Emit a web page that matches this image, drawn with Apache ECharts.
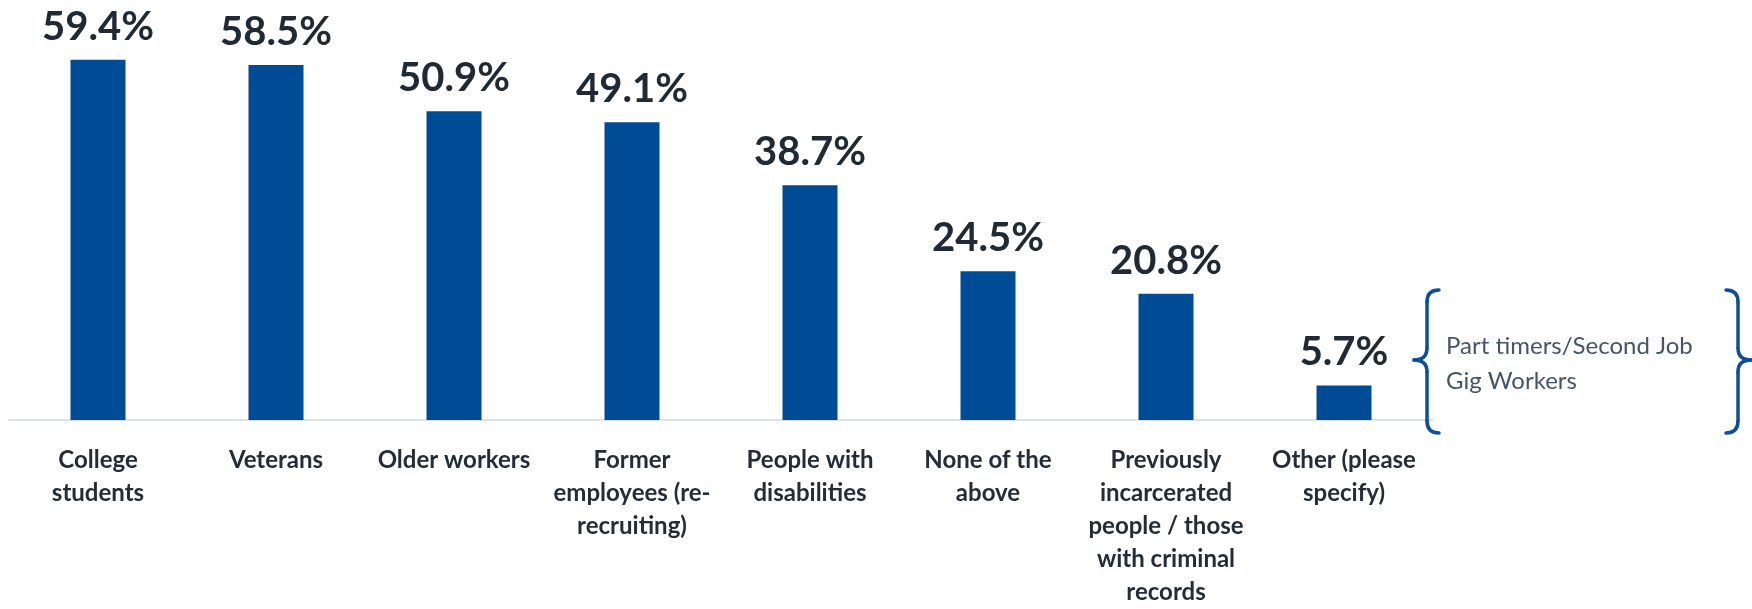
<!DOCTYPE html>
<html>
<head>
<meta charset="utf-8">
<script src="https://cdn.jsdelivr.net/npm/echarts@6/dist/echarts.min.js"></script>
<style>
  html, body { margin: 0; padding: 0; background: #ffffff; }
  #chart { width: 1752px; height: 609px; }
</style>
</head>
<body>
<div id="chart"></div>
<script>
// Groups targeted when recruiting (share of respondents)
const categories = [
  'College students',
  'Veterans',
  'Older workers',
  'Former employees (re-recruiting)',
  'People with disabilities',
  'None of the above',
  'Previously incarcerated people / those with criminal records',
  'Other (please specify)'
];
const tickLabels = [
  'College\nstudents',
  'Veterans',
  'Older workers',
  'Former\nemployees (re-\nrecruiting)',
  'People with\ndisabilities',
  'None of the\nabove',
  'Previously\nincarcerated\npeople / those\nwith criminal\nrecords',
  'Other (please\nspecify)'
];
const shares = [59.4, 58.5, 50.9, 49.1, 38.7, 24.5, 20.8, 5.7];
const noteLines = ['Part timers/Second Job', 'Gig Workers'];

const chart = echarts.init(document.getElementById('chart'), null, { renderer: 'canvas' });

const braceColor = '#0d4f98';
const braceStyle = { fill: 'none', stroke: braceColor, lineWidth: 3.5, lineCap: 'round' };

// Curly brace built from straight runs and quadratic corners.
// xs: x of the vertical run, xe: x of the end hooks, xt: x of the middle tip.
function brace(xs, xe, xt, yTop, yMid, yBot) {
  const r = 12;
  const curve = (x1, y1, x2, y2, cx, cy) => ({
    type: 'bezierCurve', z: 10, silent: true,
    shape: { x1, y1, x2, y2, cpx1: cx, cpy1: cy },
    style: braceStyle
  });
  const line = (x1, y1, x2, y2) => ({
    type: 'line', z: 10, silent: true,
    shape: { x1, y1, x2, y2 },
    style: braceStyle
  });
  return [
    curve(xe, yTop, xs, yTop + r, xs, yTop),
    line(xs, yTop + r, xs, yMid - r),
    curve(xs, yMid - r, xt, yMid, xs, yMid),
    curve(xt, yMid, xs, yMid + r, xs, yMid),
    line(xs, yMid + r, xs, yBot - r),
    curve(xs, yBot - r, xe, yBot, xs, yBot)
  ];
}

chart.setOption({
  animation: false,
  backgroundColor: '#ffffff',
  grid: { left: 9, width: 1424, top: 56, height: 367, containLabel: false },
  xAxis: {
    type: 'category',
    data: categories,
    axisTick: { show: false },
    axisLine: { show: true, lineStyle: { color: '#dde2ea', width: 2 } },
    axisLabel: {
      interval: 0,
      margin: 24,
      fontFamily: 'Lato',
      fontWeight: 'bold',
      fontSize: 24,
      lineHeight: 33,
      color: '#242d37',
      align: 'center',
      formatter: (v, i) => tickLabels[i]
    }
  },
  yAxis: {
    type: 'value',
    min: 0,
    max: 60,
    show: false,
    splitLine: { show: false }
  },
  series: [{
    type: 'bar',
    data: shares,
    barWidth: 55,
    itemStyle: { color: '#004b96' },
    label: {
      show: true,
      position: 'top',
      distance: 13,
      fontFamily: 'Lato',
      fontWeight: 'bold',
      fontSize: 40,
      color: '#202a34',
      formatter: p => p.value.toFixed(1) + '%'
    }
  }],
  graphic: [
    ...brace(1427, 1439, 1414, 290, 360, 433),
    ...brace(1738, 1726, 1751, 290, 360, 433),
    {
      type: 'text',
      left: 1446,
      top: 329,
      z: 10,
      style: {
        text: noteLines.join('\n'),
        font: '24px Lato',
        lineHeight: 35,
        fill: '#44546a'
      }
    }
  ]
});
</script>
</body>
</html>
